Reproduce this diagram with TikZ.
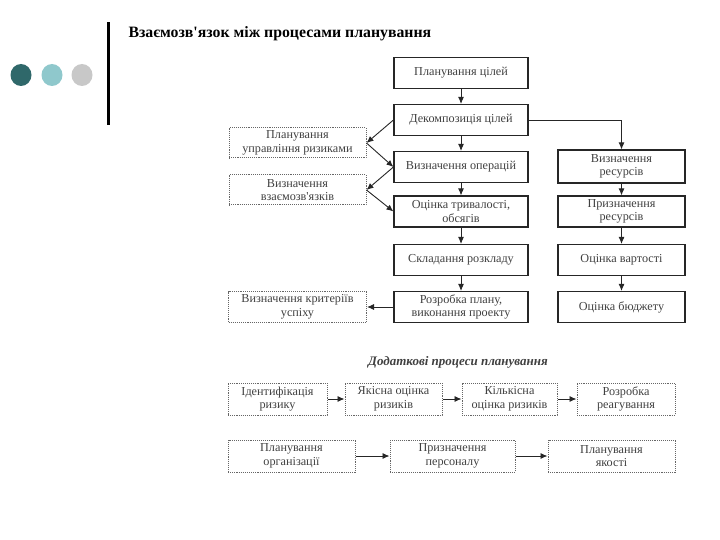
\documentclass[tikz,border=0pt]{standalone}
\usepackage{fontspec}
\setmainfont{Liberation Serif}
\usetikzlibrary{arrows.meta,positioning}

\tikzset{
  proc/.style={rectangle, draw=black!85, line width=1.1pt, text=black!75, align=center,
    font=\fontsize{12.2}{13.5}\selectfont, inner sep=1pt, minimum height=31pt},
  aux/.style={proc, draw=black!60, densely dotted, line width=1pt},
  arr/.style={-{Latex[length=7pt,width=6pt]}, line width=0.9pt, draw=black!85},
}

\begin{document}
\begin{tikzpicture}[x=1pt, y=-1pt]
  \useasboundingbox (0,0) rectangle (720,540);
  % slide decoration
  \fill[fill={rgb,255:red,47;green,104;blue,106}] (21,75) ellipse (10.5 and 11);
  \fill[fill={rgb,255:red,143;green,200;blue,204}] (52,75) ellipse (10.5 and 11);
  \fill[fill={rgb,255:red,200;green,200;blue,200}] (82,75) ellipse (10.5 and 11);
  \fill[black] (106.5,22) rectangle (109.5,125);
  \node[anchor=west, font=\fontsize{15.8}{18}\selectfont\bfseries] (title) at (125,34) {Взаємозв\textquotesingle язок між процесами планування};

  % main chain
  \node[proc, minimum width=134pt] (goals) at (461,73) {Планування цілей};
  \node[proc, minimum width=134pt] (decomp) at (461,120) {Декомпозиція цілей};
  \node[proc, minimum width=134pt] (ops) at (461,167) {Визначення операцій};
  \node[proc, minimum width=134pt] (dur) at (461,211.5) {Оцінка тривалості,\\обсягів};
  \node[proc, minimum width=134pt] (sched) at (461,260) {Складання розкладу};
  \node[proc, minimum width=134pt] (plan) at (461,307) {Розробка плану,\\виконання проекту};

  % resources
  \node[proc, minimum width=127pt, minimum height=33pt] (res) at (621.5,166.5) {Визначення\\ресурсів};
  \node[proc, minimum width=127pt] (assign) at (621.5,211.5) {Призначення\\ресурсів};
  \node[proc, minimum width=127pt] (cost) at (621.5,260) {Оцінка вартості};
  \node[proc, minimum width=127pt] (budget) at (621.5,307) {Оцінка бюджету};

  % left side
  \node[aux, minimum width=137pt, minimum height=30pt] (risk) at (297.5,143) {Планування\\управління ризиками};
  \node[aux, minimum width=137pt, minimum height=30pt] (links) at (297.5,190) {Визначення\\взаємозв\textquotesingle язків};
  \node[aux, minimum width=138pt] (crit) at (297.5,307) {Визначення критеріїв\\успіху};

  \draw[arr] (goals) -- (decomp);
  \draw[arr] (decomp) -- (ops);
  \draw[arr] (ops) -- (dur);
  \draw[arr] (dur) -- (sched);
  \draw[arr] (sched) -- (plan);
  \draw[arr] (decomp.east) -| (res.north);
  \draw[arr] (res) -- (assign);
  \draw[arr] (assign) -- (cost);
  \draw[arr] (cost) -- (budget);
  \draw[arr] (decomp.west) -- (risk.east);
  \draw[arr] (risk.east) -- (ops.west);
  \draw[arr] (ops.west) -- (links.east);
  \draw[arr] (links.east) -- (dur.west);
  \draw[arr] (plan) -- (crit);

  % additional processes
  \node[font=\fontsize{13}{14}\selectfont\bfseries\itshape, text=black!75] (extra) at (458,362) {Додаткові процеси планування};

  \node[aux, minimum width=99pt, minimum height=32pt] (ident) at (277.5,399) {Ідентифікація\\ризику};
  \node[aux, minimum width=97pt, minimum height=32pt] (qual) at (393.5,399) {Якісна оцінка\\ризиків};
  \node[aux, minimum width=95pt, minimum height=32pt] (quant) at (509.5,399) {Кількісна\\оцінка ризиків};
  \node[aux, minimum width=98pt, minimum height=32pt] (resp) at (626,399) {Розробка\\реагування};
  \draw[arr] (ident) -- (qual);
  \draw[arr] (qual) -- (quant);
  \draw[arr] (quant) -- (resp);

  \node[aux, minimum width=127pt, minimum height=32pt] (org) at (291.5,456) {Планування\\організації};
  \node[aux, minimum width=125pt, minimum height=32pt] (staff) at (452.5,456) {Призначення\\персоналу};
  \node[aux, minimum width=127pt, minimum height=32pt] (quality) at (611.5,456) {Планування\\якості};
  \draw[arr] (org) -- (staff);
  \draw[arr] (staff) -- (quality);
\end{tikzpicture}
\end{document}
